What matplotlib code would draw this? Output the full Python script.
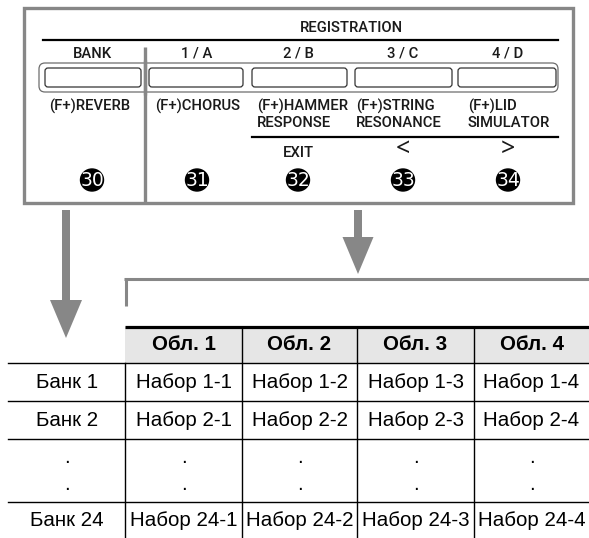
import matplotlib
matplotlib.use("Agg")
import matplotlib.pyplot as plt
from matplotlib.patches import Rectangle, FancyBboxPatch, FancyArrow, Ellipse

# ---------------- data ----------------
panel_title = "REGISTRATION"
top_labels = ["BANK", "1 / A", "2 / B", "3 / C", "4 / D"]
function_labels = ["(F+)REVERB", "(F+)CHORUS", "(F+)HAMMER\nRESPONSE",
                   "(F+)STRING\nRESONANCE", "(F+)LID\nSIMULATOR"]
nav_labels = ["", "", "EXIT", "<", ">"]
button_numbers = ["30", "31", "32", "33", "34"]

col_headers = ["Обл. 1", "Обл. 2", "Обл. 3", "Обл. 4"]
row_labels = ["Банк 1", "Банк 2", None, "Банк 24"]
cell_values = [
    ["Набор 1-1", "Набор 1-2", "Набор 1-3", "Набор 1-4"],
    ["Набор 2-1", "Набор 2-2", "Набор 2-3", "Набор 2-4"],
    None,
    ["Набор 24-1", "Набор 24-2", "Набор 24-3", "Набор 24-4"],
]

# ---------------- layout ----------------
W, H = 589, 538
fig = plt.figure(figsize=(W / 100, H / 100), dpi=100)
ax = fig.add_axes([0, 0, 1, 1])
ax.set_xlim(0, W)
ax.set_ylim(H, 0)
ax.axis("off")

GREY = "#878787"
DARK = "#1a1a1a"
PFONT = ["Roboto", "DejaVu Sans"]
PSIZE = 10.6
PWEIGHT = "medium"
TFONT = "Liberation Sans"

# outer grey frame of the panel
ax.add_patch(Rectangle((24, 8), 549, 195, fill=False, ec=GREY, lw=2.4))
# vertical divider
ax.plot([145, 145], [47, 203], color=GREY, lw=2.4, solid_capstyle="butt")

# title and rule
ax.text(351, 28, panel_title, ha="center", va="center", fontsize=PSIZE,
        family=PFONT, fontweight=PWEIGHT, color=DARK)
ax.plot([43, 558], [40, 40], color="black", lw=1.6)

col_x = [92, 197, 298, 403, 508]
btn_spans = [(45, 141), (149, 243), (252, 347), (355, 452), (458, 556)]
func_left = [49, 155, 257, 356, 468]

# outer rounded strip
ax.add_patch(FancyBboxPatch((39, 63), 519, 29,
                            boxstyle="round,pad=0,rounding_size=6",
                            fill=False, ec="#6d6d6d", lw=0.9))
ax.plot([145, 145], [60, 95], color=GREY, lw=2.4, solid_capstyle="butt")

for i, lab in enumerate(top_labels):
    ax.text(col_x[i], 54, lab, ha="center", va="center", fontsize=PSIZE,
            family=PFONT, fontweight=PWEIGHT, color=DARK)
    x0, x1 = btn_spans[i]
    ax.add_patch(FancyBboxPatch((x0, 68), x1 - x0, 19,
                                boxstyle="round,pad=0,rounding_size=3",
                                fill=False, ec="#333333", lw=0.9))
    ax.text(func_left[i], 99, function_labels[i], ha="left", va="top",
            fontsize=PSIZE, family=PFONT, fontweight=PWEIGHT, color=DARK,
            linespacing=1.2)

ax.plot([252, 558], [137, 137], color="black", lw=1.6)

for i, lab in enumerate(nav_labels):
    if not lab:
        continue
    if lab == "EXIT":
        ax.text(col_x[i], 153, lab, ha="center", va="center", fontsize=PSIZE,
                family=PFONT, fontweight=PWEIGHT, color=DARK)
    else:
        ax.text(col_x[i], 149, lab, ha="center", va="center", fontsize=18,
                family="Noto Sans", fontweight="light", color=DARK)

for i, num in enumerate(button_numbers):
    ax.add_patch(Ellipse((col_x[i], 180), 23, 22, color="black"))
    ax.text(col_x[i], 180.5, num, ha="center", va="center", fontsize=13.5,
            family=["Liberation Sans Narrow", "DejaVu Sans"], color="white")

# arrows
ax.add_patch(FancyArrow(66, 210, 0, 128, width=8, head_width=32,
                        head_length=38, length_includes_head=True,
                        color=GREY, lw=0))
ax.add_patch(FancyArrow(358, 210, 0, 64, width=8, head_width=31,
                        head_length=37, length_includes_head=True,
                        color=GREY, lw=0))

# bracket
ax.plot([124, 589], [279, 279], color=GREY, lw=2.2, solid_capstyle="butt")
ax.plot([125.5, 125.5], [278, 306], color=GREY, lw=2.2, solid_capstyle="butt")

# ---------------- table ----------------
col_edges = [125, 242, 357, 474, 589]
cell_cx = [(col_edges[k] + col_edges[k + 1]) / 2 for k in range(4)]
label_cx = 67
header_top, header_bot = 327, 363
row_lines = [363, 401, 439, 502]
row_cy = [383, 420, None, 521]
dot_y = [461, 488]

ax.add_patch(Rectangle((125, header_top), 589 - 125, header_bot - header_top,
                       color="#e6e6e6", lw=0))
ax.plot([125, 589], [326.5, 326.5], color="black", lw=2.3,
        solid_capstyle="butt")
for y in row_lines:
    ax.plot([8, 589], [y, y], color="black", lw=1.0)
ax.plot([125, 125], [header_bot, H], color="black", lw=1.0)
for x in col_edges[1:4]:
    ax.plot([x, x], [header_top, H], color="black", lw=1.0)

for k, h in enumerate(col_headers):
    ax.text(cell_cx[k], 345, h, ha="center", va="center", fontsize=14.8,
            family=TFONT, fontweight="bold", color="black")

for r, lab in enumerate(row_labels):
    if lab is None:
        for dy in dot_y:
            ax.text(label_cx, dy + 2, ".", ha="center", va="baseline",
                    fontsize=14.8, family=TFONT, color="black")
            for k in range(4):
                ax.text(cell_cx[k], dy + 2, ".", ha="center", va="baseline",
                        fontsize=14.8, family=TFONT, color="black")
        continue
    ax.text(label_cx, row_cy[r], lab, ha="center", va="center",
            fontsize=14.8, family=TFONT, color="black")
    for k in range(4):
        ax.text(cell_cx[k], row_cy[r], cell_values[r][k], ha="center",
                va="center", fontsize=14.8, family=TFONT, color="black")

fig.savefig("out.png", dpi=100)
